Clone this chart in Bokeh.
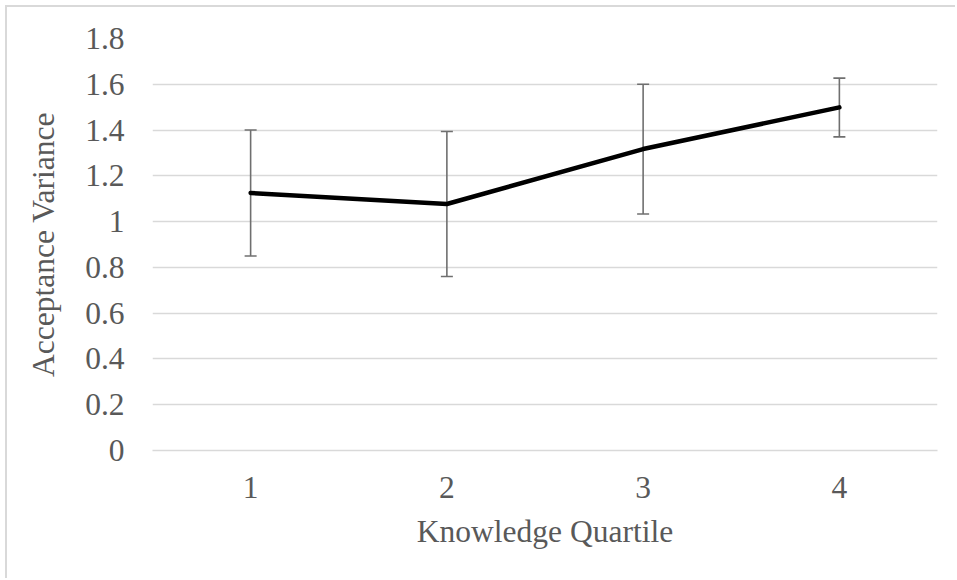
from bokeh.plotting import figure
from bokeh.models import (ColumnDataSource, FactorRange, Range1d, FixedTicker,
                          CustomJSTickFormatter, Whisker, TeeHead)
from bokeh.embed import file_html
from bokeh.resources import INLINE

# Mean acceptance variance per knowledge quartile, with error bounds
quartiles = ["1", "2", "3", "4"]
acceptance_variance = [1.125, 1.077, 1.317, 1.499]
upper_bound = [1.400, 1.394, 1.600, 1.627]
lower_bound = [0.850, 0.760, 1.033, 1.370]
y_ticks = [0, 0.2, 0.4, 0.6, 0.8, 1, 1.2, 1.4, 1.6, 1.8]

FONT = "Liberation Serif"
FONT_SIZE = "31.5px"
TEXT = "#595959"
GRID = "#d9d9d9"

src = ColumnDataSource(dict(q=quartiles, v=acceptance_variance,
                            up=upper_bound, lo=lower_bound))

p = figure(
    width=950, height=573,
    x_range=FactorRange(*quartiles, range_padding=0),
    y_range=Range1d(0, 1.8),
    output_backend="svg", toolbar_location=None,
    min_border_left=145, min_border_right=20,
    min_border_top=31, min_border_bottom=130,
    styles={"margin-left": "5px", "margin-top": "5px",
            "border-left": f"2px solid {GRID}", "border-top": f"2px solid {GRID}"},
)
p.outline_line_color = None
p.background_fill_color = "white"
p.border_fill_color = "white"

# grid
p.xgrid.grid_line_color = None
p.ygrid.grid_line_color = GRID
p.ygrid.grid_line_width = 1.3

# y axis
p.yaxis.ticker = FixedTicker(ticks=y_ticks)
p.yaxis.formatter = CustomJSTickFormatter(code="return String(tick)")
p.yaxis.axis_line_color = None
p.yaxis.major_tick_line_color = None
p.yaxis.minor_tick_line_color = None
p.yaxis.major_tick_out = 0
p.yaxis.major_tick_in = 0
p.yaxis.major_label_standoff = 28
p.yaxis.axis_label = "Acceptance Variance"
p.yaxis.axis_label_standoff = 21

# x axis
p.xaxis.axis_line_color = GRID
p.xaxis.axis_line_width = 1.3
p.xaxis.major_tick_line_color = None
p.xaxis.minor_tick_line_color = None
p.xaxis.major_tick_out = 0
p.xaxis.major_tick_in = 0
p.xaxis.major_label_standoff = 26
p.xaxis.axis_label = "Knowledge Quartile"
p.xaxis.axis_label_standoff = 13

for ax in (p.xaxis, p.yaxis):
    ax.major_label_text_font = FONT
    ax.major_label_text_font_size = FONT_SIZE
    ax.major_label_text_color = TEXT
    ax.axis_label_text_font = FONT
    ax.axis_label_text_font_size = FONT_SIZE
    ax.axis_label_text_font_style = "normal"
    ax.axis_label_text_color = TEXT

# error bars
err_color = "#6f6f6f"
whisk = Whisker(source=src, base="q", upper="up", lower="lo",
                line_color=err_color, line_width=1.6,
                upper_head=TeeHead(size=12, line_color=err_color, line_width=1.6),
                lower_head=TeeHead(size=12, line_color=err_color, line_width=1.6))
p.add_layout(whisk)

# mean line
p.line("q", "v", source=src, line_color="black", line_width=4.5,
       line_join="round", line_cap="round")

open("out.html", "w").write(file_html(p, INLINE))
